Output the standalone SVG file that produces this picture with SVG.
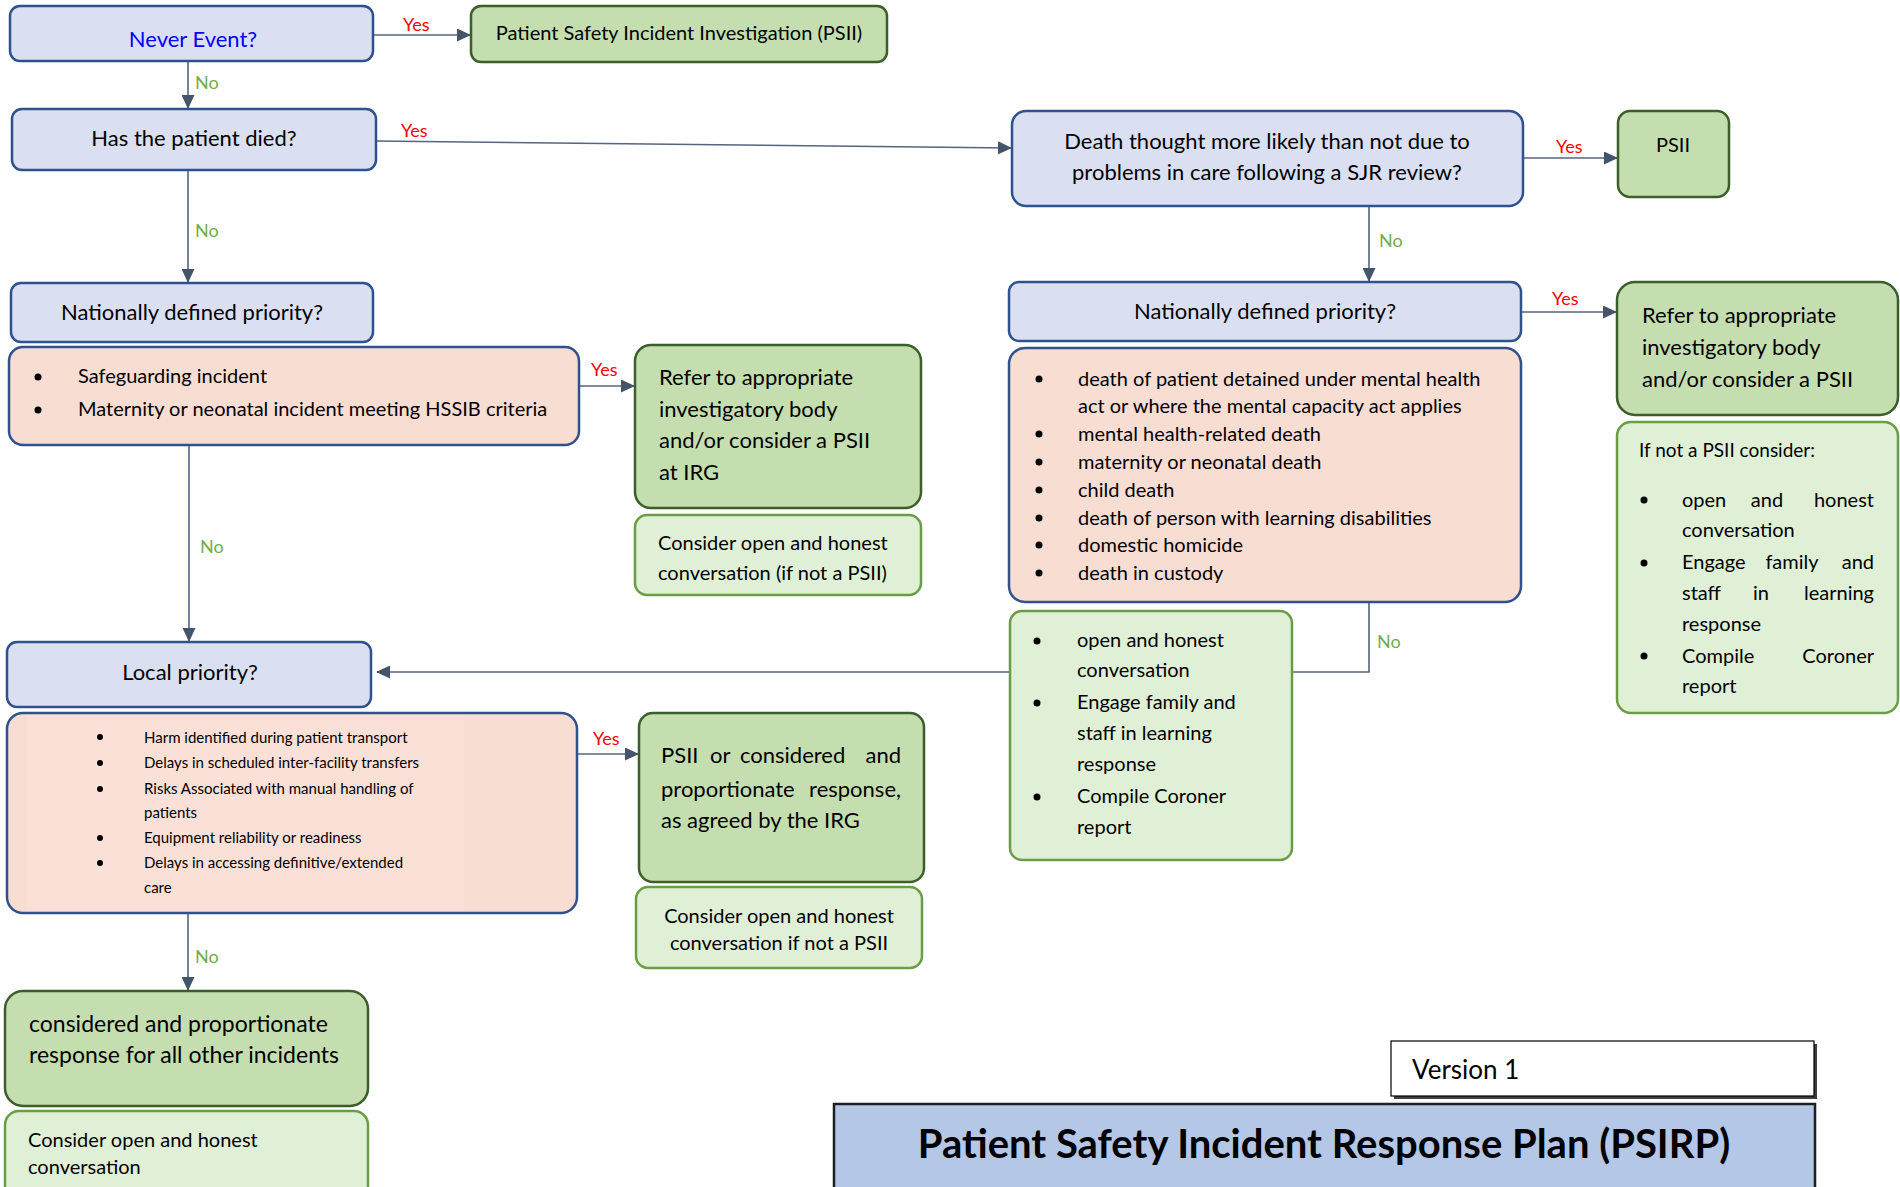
<svg xmlns="http://www.w3.org/2000/svg" width="1900" height="1187" viewBox="0 0 1900 1187">
<style>
text{font-family:Lato,"Liberation Sans",sans-serif;fill:#000}
.q{fill:#dae0f1;stroke:#2f528f;stroke-width:2.5}
.pk{fill:#f8ddd3;stroke:#2f528f;stroke-width:2.5}
.dg{fill:#c5deb0;stroke:#3b5e2b;stroke-width:2.5}
.lg{fill:#dff0d6;stroke:#6a9e45;stroke-width:2.5}
.ln{fill:none;stroke:#55657e;stroke-width:1.6}
.yes{fill:#ff0000;font-size:18px}
.no{fill:#70ad47;font-size:18px}
.t22{font-size:22px}
.t20{font-size:20px}
.t15{font-size:15px}
.c{text-anchor:middle}
.r{text-anchor:end}
</style>
<defs>
<marker id="ah" markerWidth="14" markerHeight="13" refX="13" refY="6.5" orient="auto" markerUnits="userSpaceOnUse">
<path d="M0,0 L14,6.5 L0,13 z" fill="#44546a"/>
</marker>
<filter id="sh" x="-5%" y="-5%" width="115%" height="130%"><feOffset dx="3" dy="3"/></filter>
</defs>
<g id="connectors">
<line class="ln" x1="373" y1="35" x2="470" y2="35" marker-end="url(#ah)"/>
<line class="ln" x1="188" y1="61" x2="188" y2="108" marker-end="url(#ah)"/>
<line class="ln" x1="376" y1="141" x2="1011" y2="148" marker-end="url(#ah)"/>
<line class="ln" x1="188" y1="170" x2="188" y2="282" marker-end="url(#ah)"/>
<line class="ln" x1="1523" y1="158" x2="1617" y2="158" marker-end="url(#ah)"/>
<line class="ln" x1="1369" y1="206" x2="1369" y2="281" marker-end="url(#ah)"/>
<line class="ln" x1="1521" y1="312" x2="1616" y2="312" marker-end="url(#ah)"/>
<line class="ln" x1="579" y1="386" x2="634" y2="386" marker-end="url(#ah)"/>
<line class="ln" x1="189" y1="445" x2="189" y2="641" marker-end="url(#ah)"/>
<polyline class="ln" points="1369,602 1369,672 377,672" marker-end="url(#ah)"/>
<line class="ln" x1="577" y1="754" x2="638" y2="754" marker-end="url(#ah)"/>
<line class="ln" x1="188" y1="913" x2="188" y2="990" marker-end="url(#ah)"/>
<text class="yes" x="403" y="31">Yes</text>
<text class="no" x="195" y="89">No</text>
<text class="yes" x="401" y="137">Yes</text>
<text class="no" x="195" y="237">No</text>
<text class="yes" x="1556" y="153">Yes</text>
<text class="no" x="1379" y="247">No</text>
<text class="yes" x="1552" y="305">Yes</text>
<text class="yes" x="591" y="376">Yes</text>
<text class="no" x="200" y="553">No</text>
<text class="no" x="1377" y="648">No</text>
<text class="yes" x="593" y="745">Yes</text>
<text class="no" x="195" y="963">No</text>
</g>
<g id="never-event">
<rect class="q" x="10" y="6" width="363" height="55" rx="10"/>
<text class="t22 c" x="193" y="47" style="fill:#0000ff">Never Event?</text>
</g>
<g id="psii-top">
<rect class="dg" x="471" y="6" width="416" height="56" rx="10"/>
<text class="t20 c" x="679" y="40">Patient Safety Incident Investigation (PSII)</text>
</g>
<g id="patient-died">
<rect class="q" x="12" y="109" width="364" height="61" rx="10"/>
<text class="t22 c" x="194" y="146">Has the patient died?</text>
</g>
<g id="death-sjr">
<rect class="q" x="1012" y="111" width="511" height="95" rx="14"/>
<text class="t22 c" x="1267" y="149">Death thought more likely than not due to</text>
<text class="t22 c" x="1267" y="180">problems in care following a SJR review?</text>
</g>
<g id="psii-right">
<rect class="dg" x="1618" y="111" width="111" height="86" rx="12"/>
<text class="t20 c" x="1673" y="152">PSII</text>
</g>
<g id="national-left">
<rect class="q" x="11" y="283" width="362" height="59" rx="10"/>
<text class="t22 c" x="192" y="320">Nationally defined priority?</text>
</g>
<g id="national-left-list">
<rect class="pk" x="9" y="347" width="570" height="98" rx="14"/>
<circle cx="38" cy="377" r="3.5"/>
<circle cx="38" cy="410" r="3.5"/>
<text class="t20" x="78" y="383">Safeguarding incident</text>
<text class="t20" x="78" y="416">Maternity or neonatal incident meeting HSSIB criteria</text>
</g>
<g id="refer-left">
<rect class="dg" x="635" y="345" width="286" height="163" rx="16"/>
<text class="t22" x="659" y="385">Refer to appropriate</text>
<text class="t22" x="659" y="417">investigatory body</text>
<text class="t22" x="659" y="448">and/or consider a PSII</text>
<text class="t22" x="659" y="480">at IRG</text>
</g>
<g id="consider-left">
<rect class="lg" x="635" y="515" width="286" height="80" rx="12"/>
<text class="t20" x="658" y="550">Consider open and honest</text>
<text class="t20" x="658" y="580">conversation (if not a PSII)</text>
</g>
<g id="national-right">
<rect class="q" x="1009" y="282" width="512" height="59" rx="10"/>
<text class="t22 c" x="1265" y="319">Nationally defined priority?</text>
</g>
<g id="national-right-list">
<rect class="pk" x="1009" y="348" width="512" height="254" rx="16"/>
<g>
<circle cx="1039" cy="379" r="3.5"/>
<circle cx="1039" cy="434" r="3.5"/>
<circle cx="1039" cy="462" r="3.5"/>
<circle cx="1039" cy="490" r="3.5"/>
<circle cx="1039" cy="518" r="3.5"/>
<circle cx="1039" cy="545" r="3.5"/>
<circle cx="1039" cy="573" r="3.5"/>
</g>
<text class="t20" x="1078" y="386">death of patient detained under mental health</text>
<text class="t20" x="1078" y="413">act or where the mental capacity act applies</text>
<text class="t20" x="1078" y="441">mental health-related death</text>
<text class="t20" x="1078" y="469">maternity or neonatal death</text>
<text class="t20" x="1078" y="497">child death</text>
<text class="t20" x="1078" y="525">death of person with learning disabilities</text>
<text class="t20" x="1078" y="552">domestic homicide</text>
<text class="t20" x="1078" y="580">death in custody</text>
</g>
<g id="refer-right">
<rect class="dg" x="1617" y="282" width="281" height="133" rx="18"/>
<text class="t22" x="1642" y="323">Refer to appropriate</text>
<text class="t22" x="1642" y="355">investigatory body</text>
<text class="t22" x="1642" y="387">and/or consider a PSII</text>
</g>
<g id="if-not-psii">
<rect class="lg" x="1617" y="422" width="281" height="291" rx="14"/>
<text class="t20" x="1639" y="457" style="font-size:19px">If not a PSII consider:</text>
<circle cx="1644" cy="500" r="3.5"/>
<circle cx="1644" cy="563" r="3.5"/>
<circle cx="1644" cy="656" r="3.5"/>
<text class="t20" y="507"><tspan x="1682">open</tspan><tspan x="1767" class="c">and</tspan><tspan x="1874" class="r">honest</tspan></text>
<text class="t20" x="1682" y="537">conversation</text>
<text class="t20" y="569"><tspan x="1682">Engage</tspan><tspan x="1792" class="c">family</tspan><tspan x="1874" class="r">and</tspan></text>
<text class="t20" y="600"><tspan x="1682">staff</tspan><tspan x="1761" class="c">in</tspan><tspan x="1874" class="r">learning</tspan></text>
<text class="t20" x="1682" y="631">response</text>
<text class="t20" y="663"><tspan x="1682">Compile</tspan><tspan x="1874" class="r">Coroner</tspan></text>
<text class="t20" x="1682" y="693">report</text>
</g>
<g id="open-honest-middle">
<rect class="lg" x="1010" y="611" width="282" height="249" rx="12"/>
<circle cx="1037" cy="641" r="3.5"/>
<circle cx="1037" cy="703" r="3.5"/>
<circle cx="1037" cy="797" r="3.5"/>
<text class="t20" x="1077" y="647">open and honest</text>
<text class="t20" x="1077" y="677">conversation</text>
<text class="t20" x="1077" y="709">Engage family and</text>
<text class="t20" x="1077" y="740">staff in learning</text>
<text class="t20" x="1077" y="771">response</text>
<text class="t20" x="1077" y="803">Compile Coroner</text>
<text class="t20" x="1077" y="834">report</text>
</g>
<g id="local-priority">
<rect class="q" x="7" y="642" width="364" height="65" rx="10"/>
<text class="t22 c" x="190" y="680">Local priority?</text>
</g>
<g id="local-list">
<rect class="pk" x="7" y="713" width="570" height="200" rx="16"/>
<rect x="27" y="715" width="437" height="196" fill="#fae0d6"/>
<circle cx="100" cy="737" r="3"/>
<circle cx="100" cy="763" r="3"/>
<circle cx="100" cy="789" r="3"/>
<circle cx="100" cy="838" r="3"/>
<circle cx="100" cy="863" r="3"/>
<text class="t15" x="144" y="743">Harm identified during patient transport</text>
<text class="t15" x="144" y="768">Delays in scheduled inter-facility transfers</text>
<text class="t15" x="144" y="794">Risks Associated with manual handling of</text>
<text class="t15" x="144" y="818">patients</text>
<text class="t15" x="144" y="843">Equipment reliability or readiness</text>
<text class="t15" x="144" y="868">Delays in accessing definitive/extended</text>
<text class="t15" x="144" y="893">care</text>
</g>
<g id="psii-or-considered">
<rect class="dg" x="639" y="713" width="285" height="169" rx="14"/>
<text class="t22" y="763"><tspan x="661">PSII</tspan><tspan x="710">or</tspan><tspan x="740">considered</tspan><tspan x="901" class="r">and</tspan></text>
<text class="t22" y="797"><tspan x="661">proportionate</tspan><tspan x="901" class="r">response,</tspan></text>
<text class="t22" x="661" y="828">as agreed by the IRG</text>
</g>
<g id="consider-middle">
<rect class="lg" x="636" y="887" width="286" height="81" rx="12"/>
<text class="t20 c" x="779" y="923">Consider open and honest</text>
<text class="t20 c" x="779" y="950">conversation if not a PSII</text>
</g>
<g id="considered-other">
<rect class="dg" x="5" y="991" width="363" height="115" rx="18"/>
<text class="t22" x="29" y="1032" style="font-size:23px">considered and proportionate</text>
<text class="t22" x="29" y="1063" style="font-size:23px">response for all other incidents</text>
</g>
<g id="consider-bottom">
<rect class="lg" x="5" y="1111" width="363" height="100" rx="14"/>
<text class="t20" x="28" y="1147">Consider open and honest</text>
<text class="t20" x="28" y="1174">conversation</text>
</g>
<g id="version">
<rect x="1391" y="1041" width="423" height="55" fill="#404040" filter="url(#sh)"/>
<rect x="1391" y="1041" width="423" height="55" fill="#ffffff" stroke="#000" stroke-width="1.2"/>
<text x="1412" y="1079" style="font-size:26px">Version 1</text>
</g>
<g id="title">
<rect x="834" y="1104" width="981" height="100" fill="#b4c7e7" stroke="#1f1f1f" stroke-width="2.5"/>
<text class="c" x="1324" y="1158" style="font-size:40px;font-weight:bold">Patient Safety Incident Response Plan (PSIRP)</text>
</g>
</svg>
